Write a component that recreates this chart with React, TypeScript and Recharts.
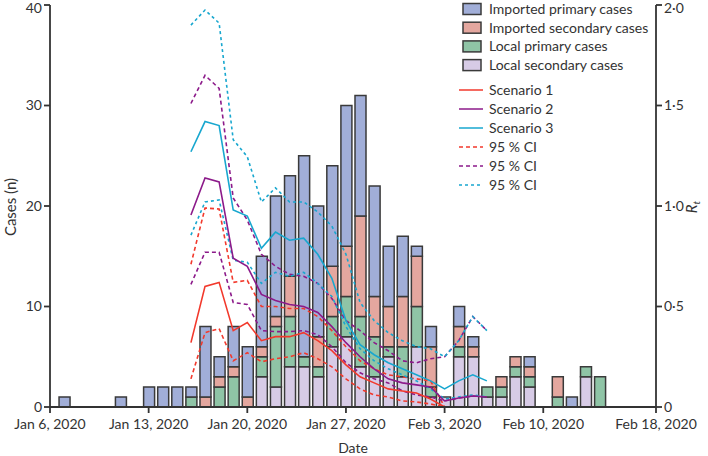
import React from 'react';
import { ComposedChart, Bar, Line, XAxis, YAxis, Legend } from 'recharts';

// day offsets from Jan 6, 2020
const xTicks = [0, 7, 14, 21, 28, 35, 43];
const xTickLabels = ['Jan 6, 2020', 'Jan 13, 2020', 'Jan 20, 2020', 'Jan 27, 2020', 'Feb 3, 2020', 'Feb 10, 2020', 'Feb 18, 2020'];

// cases per day, index = days since Jan 6
const importedPrimary = [0, 1, 0, 0, 0, 1, 0, 2, 2, 2, 1, 7, 2, 4, 5, 9, 12, 10, 20, 13, 10, 14, 12, 11, 6, 6, 1, 2, 0, 2, 1, 0, 0, 0, 1, 0, 0, 1, 0, 0];
const importedSecondary = [0, 0, 0, 0, 0, 0, 0, 0, 0, 0, 0, 1, 1, 1, 1, 1, 1, 4, 0, 3, 5, 5, 10, 4, 4, 5, 5, 4, 0, 2, 1, 0, 1, 1, 1, 0, 2, 0, 0, 0];
const localPrimary = [0, 0, 0, 0, 0, 0, 0, 0, 0, 0, 1, 0, 2, 3, 0, 2, 6, 5, 1, 1, 3, 4, 5, 4, 1, 3, 4, 1, 0, 1, 0, 1, 1, 1, 1, 0, 1, 0, 1, 3];
const localSecondary = [0, 0, 0, 0, 0, 0, 0, 0, 0, 0, 0, 0, 0, 0, 0, 3, 2, 4, 4, 3, 6, 7, 4, 3, 5, 3, 6, 1, 1, 5, 5, 1, 1, 3, 2, 0, 0, 0, 3, 0];

// Rt estimates, Jan 16 to Feb 6
const lineDays = [10, 11, 12, 13, 14, 15, 16, 17, 18, 19, 20, 21, 22, 23, 24, 25, 26, 27, 28, 29, 30, 31];
const scenario1 = [0.32, 0.6, 0.62, 0.38, 0.42, 0.33, 0.35, 0.35, 0.37, 0.33, 0.28, 0.21, 0.15, 0.12, 0.09, 0.08, 0.07, 0.04, 0, 0, 0, 0];
const scenario1Hi = [0.71, 0.99, 0.985, 0.62, 0.63, 0.5, 0.5, 0.49, 0.49, 0.45, 0.38, 0.3, 0.23, 0.19, 0.16, 0.15, 0.14, 0.13, 0, 0, 0, 0];
const scenario1Lo = [0.14, 0.37, 0.39, 0.23, 0.27, 0.225, 0.24, 0.25, 0.27, 0.24, 0.2, 0.14, 0.09, 0.06, 0.05, 0.03, 0.025, 0.015, 0, 0, 0, 0];
const scenario2 = [0.955, 1.14, 1.12, 0.74, 0.7, 0.56, 0.53, 0.51, 0.5, 0.47, 0.4, 0.32, 0.25, 0.19, 0.14, 0.12, 0.11, 0.1, 0.03, 0.045, 0.055, 0.05];
const scenario2Hi = [1.51, 1.65, 1.585, 1.04, 0.93, 0.76, 0.7, 0.66, 0.65, 0.615, 0.54, 0.43, 0.38, 0.32, 0.28, 0.23, 0.22, 0.24, 0.25, 0.33, 0.45, 0.38];
const scenario2Lo = [0.61, 0.77, 0.77, 0.52, 0.51, 0.38, 0.375, 0.375, 0.38, 0.36, 0.3, 0.22, 0.17, 0.14, 0.12, 0.08, 0.06, 0.05, 0.03, 0.045, 0.055, 0.05];
const scenario3 = [1.27, 1.42, 1.4, 0.98, 0.95, 0.79, 0.87, 0.83, 0.84, 0.76, 0.64, 0.43, 0.31, 0.26, 0.22, 0.19, 0.16, 0.13, 0.09, 0.13, 0.16, 0.13];
const scenario3Hi = [1.9, 1.975, 1.91, 1.33, 1.245, 1.02, 1.09, 1.02, 1.02, 0.97, 0.9, 0.76, 0.52, 0.43, 0.37, 0.33, 0.3, 0.29, 0.25, 0.33, 0.45, 0.38];
const scenario3Lo = [0.855, 1.02, 1.03, 0.73, 0.72, 0.615, 0.67, 0.65, 0.67, 0.615, 0.55, 0.4, 0.29, 0.23, 0.19, 0.16, 0.13, 0.09, 0.04, 0.05, 0.06, 0.05];

const RED = '#f2392c';
const PURPLE = '#8c1a8a';
const CYAN = '#18a7cf';
const BLUE = '#a1aed8';
const PINK = '#e4a79f';
const GREEN = '#8fc4a6';
const LAVENDER = '#d7cbe6';
const EDGE = '#3a3a3a';
const FONT = 'Lato, sans-serif';

const data = importedPrimary.map((_, day) => {
  const row: any = {
    day,
    ip: importedPrimary[day],
    is: importedSecondary[day],
    lp: localPrimary[day],
    ls: localSecondary[day],
  };
  const k = lineDays.indexOf(day);
  if (k >= 0) {
    row.s1 = scenario1[k]; row.s1hi = scenario1Hi[k]; row.s1lo = scenario1Lo[k];
    row.s2 = scenario2[k]; row.s2hi = scenario2Hi[k]; row.s2lo = scenario2Lo[k];
    row.s3 = scenario3[k]; row.s3hi = scenario3Hi[k]; row.s3lo = scenario3Lo[k];
  }
  return row;
});
// empty rows so the last tick date exists in the domain
for (let d = importedPrimary.length; d <= 43; d++) data.push({ day: d });

const boxes = [
  { label: 'Imported primary cases', fill: BLUE },
  { label: 'Imported secondary cases', fill: PINK },
  { label: 'Local primary cases', fill: GREEN },
  { label: 'Local secondary cases', fill: LAVENDER },
];
const lines = [
  { label: 'Scenario 1', color: RED, dash: undefined },
  { label: 'Scenario 2', color: PURPLE, dash: undefined },
  { label: 'Scenario 3', color: CYAN, dash: undefined },
  { label: '95 % CI', color: RED, dash: '4 3' },
  { label: '95 % CI', color: PURPLE, dash: '4 3' },
  { label: '95 % CI', color: CYAN, dash: '3 3' },
];

function LegendBox() {
  return (
    <svg width={196} height={195} style={{ fontFamily: FONT }}>
      {boxes.map((b, i) => (
        <g key={b.label} transform={`translate(0, ${9 + i * 18.7})`}>
          <rect x={8} y={-5.5} width={18} height={11} fill={b.fill} stroke={EDGE} strokeWidth={1.5} />
          <text x={34} y={5} fontSize={14} fill="#333">{b.label}</text>
        </g>
      ))}
      {lines.map((l, i) => (
        <g key={i} transform={`translate(0, ${90 + i * 19})`}>
          <line x1={4} x2={28} y1={0} y2={0} stroke={l.color} strokeWidth={1.5} strokeDasharray={l.dash} />
          <text x={34} y={5} fontSize={14} fill="#333">{l.label}</text>
        </g>
      ))}
    </svg>
  );
}

const tickStyle = { fontSize: 14, fill: '#333', fontFamily: FONT };
const rtFormat = (v: number) => (v === 0 ? '0' : v.toFixed(1).replace('.', '·'));

export default function App() {
  return (
    <div style={{ position: 'absolute', left: 0, top: 0, width: 708, height: 456, background: '#fff' }}>
      <ComposedChart width={708} height={456} data={data} margin={{ top: 5, right: 0, bottom: 0, left: 0 }} barGap={0}>
        <XAxis
          dataKey="day"
          type="number"
          domain={[0, 43]}
          ticks={xTicks}
          tickFormatter={(v: number) => xTickLabels[xTicks.indexOf(v)] ?? ''}
          tick={tickStyle}
          tickSize={6}
          tickMargin={6}
          stroke="#333"
          strokeWidth={1.8}
          height={49}
          interval={0}
          allowDataOverflow
          label={{ value: 'Date', position: 'insideBottom', offset: 3, style: { fontSize: 14, fill: '#333', fontFamily: FONT } }}
        />
        <YAxis
          yAxisId="l"
          domain={[0, 40]}
          ticks={[0, 10, 20, 30, 40]}
          tick={tickStyle}
          tickSize={6}
          stroke="#333"
          strokeWidth={1.8}
          width={50}
          label={{
            content: () => (
              <text x={16} y={207} transform="rotate(-90 16 207)" textAnchor="middle" fontSize={15} fill="#333" fontFamily={FONT}>
                Cases (n)
              </text>
            ),
          }}
        />
        <YAxis
          yAxisId="r"
          orientation="right"
          domain={[0, 2]}
          ticks={[0, 0.5, 1, 1.5, 2]}
          tickFormatter={rtFormat}
          tick={tickStyle}
          tickSize={6}
          stroke="#333"
          strokeWidth={1.8}
          width={52}
          label={{
            content: () => (
              <text x={697} y={207} transform="rotate(-90 697 207)" textAnchor="middle" fontSize={15} fill="#333" fontFamily={FONT} fontStyle="italic">
                R<tspan fontSize={10} dy={3}>t</tspan>
              </text>
            ),
          }}
        />
        <Legend
          layout="vertical"
          align="center"
          verticalAlign="middle"
          wrapperStyle={{ left: 455, top: 0, width: 196 }}
          content={() => <LegendBox />}
        />
        <Bar yAxisId="l" dataKey="ls" stackId="c" fill={LAVENDER} stroke={EDGE} strokeWidth={1.5} barSize={11} isAnimationActive={false} />
        <Bar yAxisId="l" dataKey="lp" stackId="c" fill={GREEN} stroke={EDGE} strokeWidth={1.5} barSize={11} isAnimationActive={false} />
        <Bar yAxisId="l" dataKey="is" stackId="c" fill={PINK} stroke={EDGE} strokeWidth={1.5} barSize={11} isAnimationActive={false} />
        <Bar yAxisId="l" dataKey="ip" stackId="c" fill={BLUE} stroke={EDGE} strokeWidth={1.5} barSize={11} isAnimationActive={false} />

        <Line yAxisId="r" dataKey="s1hi" stroke={RED} strokeWidth={1.6} strokeDasharray="4 3" dot={false} activeDot={false} isAnimationActive={false} />
        <Line yAxisId="r" dataKey="s1lo" stroke={RED} strokeWidth={1.6} strokeDasharray="4 3" dot={false} activeDot={false} isAnimationActive={false} />
        <Line yAxisId="r" dataKey="s2hi" stroke={PURPLE} strokeWidth={1.6} strokeDasharray="4 3" dot={false} activeDot={false} isAnimationActive={false} />
        <Line yAxisId="r" dataKey="s2lo" stroke={PURPLE} strokeWidth={1.6} strokeDasharray="4 3" dot={false} activeDot={false} isAnimationActive={false} />
        <Line yAxisId="r" dataKey="s3hi" stroke={CYAN} strokeWidth={1.6} strokeDasharray="3 3" dot={false} activeDot={false} isAnimationActive={false} />
        <Line yAxisId="r" dataKey="s3lo" stroke={CYAN} strokeWidth={1.6} strokeDasharray="3 3" dot={false} activeDot={false} isAnimationActive={false} />
        <Line yAxisId="r" dataKey="s1" stroke={RED} strokeWidth={1.6} dot={false} activeDot={false} isAnimationActive={false} />
        <Line yAxisId="r" dataKey="s2" stroke={PURPLE} strokeWidth={1.6} dot={false} activeDot={false} isAnimationActive={false} />
        <Line yAxisId="r" dataKey="s3" stroke={CYAN} strokeWidth={1.6} dot={false} activeDot={false} isAnimationActive={false} />
      </ComposedChart>
    </div>
  );
}
